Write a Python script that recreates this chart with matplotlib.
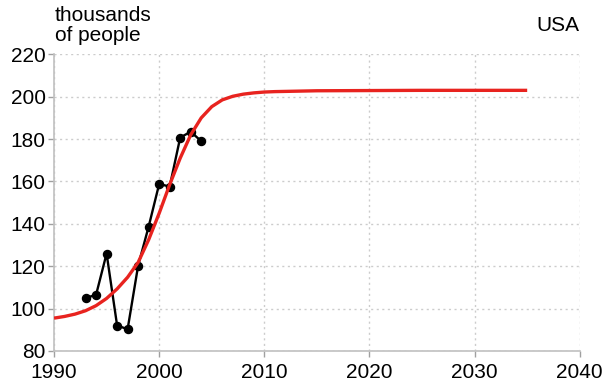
import matplotlib
matplotlib.use("Agg")
import matplotlib.pyplot as plt

plt.rcParams['font.family'] = ['Liberation Sans', 'DejaVu Sans']

# observed values (thousands of people)
obs_years = [1993, 1994, 1995, 1996, 1997, 1998, 1999, 2000, 2001, 2002, 2003, 2004]
obs_vals = [105, 106.5, 126, 92, 90.3, 120.3, 138.7, 158.8, 157.6, 180.7, 183.5, 179]

# fitted curve
fit_years = [1990, 1991, 1992, 1993, 1994, 1995, 1996, 1997, 1998, 1999,
             2000, 2001, 2002, 2003, 2004, 2005, 2006, 2007, 2008, 2009,
             2010, 2011, 2012, 2013, 2014, 2015, 2020, 2025, 2030, 2035]
fit_vals = [95.5, 96.3, 97.4, 99.0, 101.4, 104.8, 109.3, 114.8, 121.8, 132.5,
            145.0, 158.5, 171.0, 182.0, 190.0, 195.3, 198.5, 200.2, 201.2, 201.8,
            202.2, 202.4, 202.5, 202.6, 202.7, 202.8, 202.9, 203.0, 203.0, 203.0]

x_ticks = [1990, 2000, 2010, 2020, 2030, 2040]
y_ticks = [80, 100, 120, 140, 160, 180, 200, 220]

fig = plt.figure(figsize=(6.09, 3.88), dpi=100)
ax = fig.add_axes([0.0887, 0.0954, 0.8633, 0.7646])

ax.plot(obs_years, obs_vals, color="black", linewidth=1.7, marker="o",
        markersize=5.8, zorder=3)
ax.plot(fit_years, fit_vals, color="#e8231f", linewidth=2.4, zorder=4,
        solid_capstyle="butt")

ax.set_xlim(1990, 2040)
ax.set_ylim(80, 220)
ax.set_xticks(x_ticks)
ax.set_yticks(y_ticks)
ax.grid(True, linestyle=(0, (1.5, 2.5)), color="#cccccc", linewidth=1.0)
ax.set_axisbelow(True)

for s in ["top", "right"]:
    ax.spines[s].set_visible(False)
for s in ["left", "bottom"]:
    ax.spines[s].set_color("#c0c0c0")
    ax.spines[s].set_linewidth(1.2)

ax.tick_params(axis="both", labelsize=15, color="#a0a0a0", length=4,
               width=1, labelcolor="black")
ax.tick_params(axis="y", pad=2)
ax.tick_params(axis="x", pad=5)

fig.text(0.09, 0.985, "thousands\nof people", ha="left", va="top",
         fontsize=15, linespacing=1.1)
fig.text(0.952, 0.935, "USA", ha="right", va="center", fontsize=15)

fig.savefig("out.png", dpi=100)
